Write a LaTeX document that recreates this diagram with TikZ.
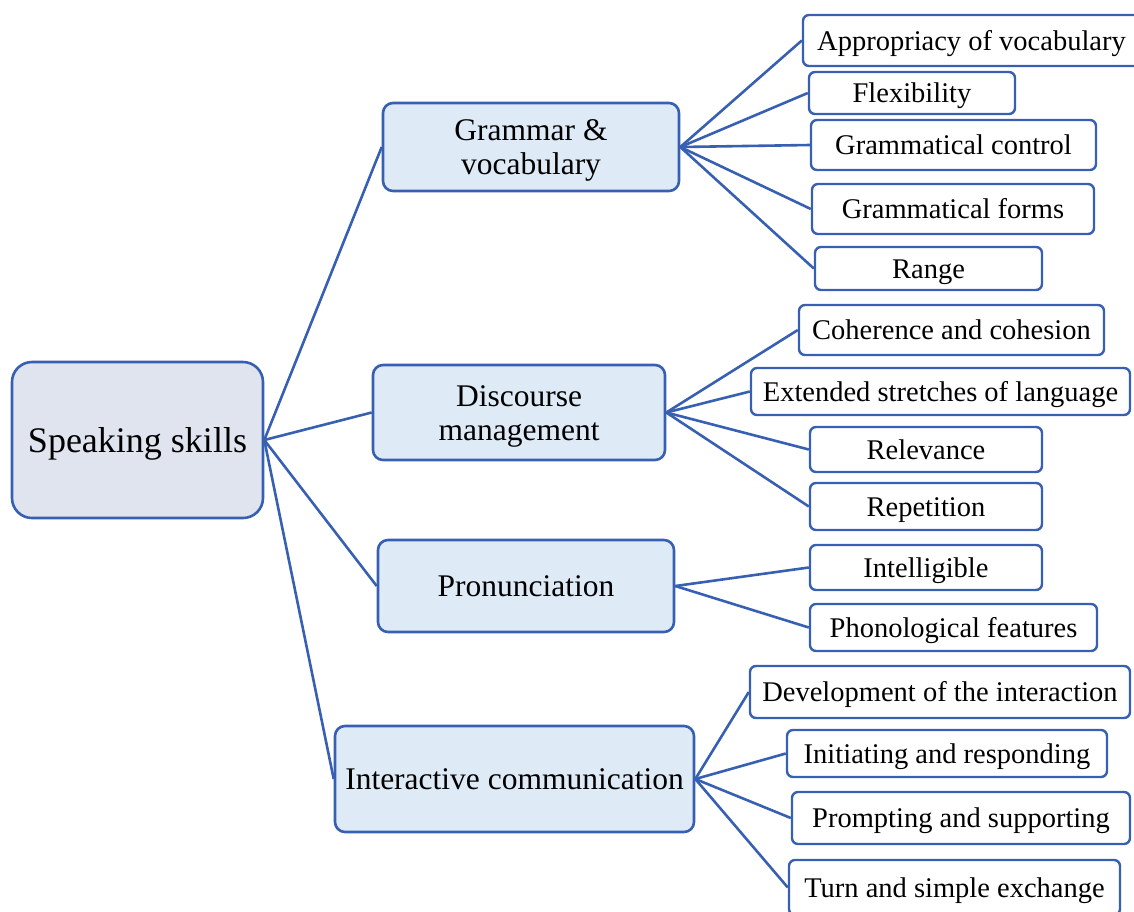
\documentclass[tikz,border=0pt]{standalone}
\usepackage{fontspec}
\setmainfont{Liberation Serif}
\usepackage{tikz}
\usetikzlibrary{positioning}
\definecolor{skline}{RGB}{56,96,178}
\definecolor{skroot}{RGB}{224,228,238}
\definecolor{skmid}{RGB}{222,235,247}
\tikzset{
  rootbox/.style={draw=skline, line width=2.6pt, fill=skroot, rounded corners=20pt,
                  inner sep=0pt, align=center, text height=24pt, text depth=0pt,
                  font=\fontsize{36}{40}\selectfont},
  midbox/.style={draw=skline, line width=2.6pt, fill=skmid, rounded corners=10pt,
                 inner sep=0pt, align=center, text height=21pt, text depth=0pt,
                 font=\fontsize{31.5}{34}\selectfont},
  twoline/.style={text height=55pt},
  leafbox/.style={draw=skline, line width=2.4pt, fill=white, rounded corners=6pt,
                  inner sep=0pt, align=center, text height=19pt, text depth=0pt,
                  font=\fontsize{28.5}{31}\selectfont},
  link/.style={draw=skline, line width=2.6pt},
}
\begin{document}
\begin{tikzpicture}[x=1pt,y=1pt]
\useasboundingbox (0,0) rectangle (1134,-911);
% root and the four skill groups
\node[rootbox, minimum width=251pt, minimum height=156pt] (speak) at (137.5,-440) {Speaking skills};
\node[midbox, twoline, minimum width=296pt, minimum height=88pt] (gv) at (531,-147) {Grammar \&\\vocabulary};
\node[midbox, twoline, minimum width=292pt, minimum height=95pt] (dm) at (519,-412.5) {Discourse\\management};
\node[midbox, minimum width=296pt, minimum height=92pt] (pr) at (526,-586) {Pronunciation};
\node[midbox, minimum width=359pt, minimum height=106pt] (ic) at (514.5,-779) {Interactive communication};
\foreach \g in {gv,dm,pr,ic}
  \draw[link] (speak.east) -- (\g.west);
% criteria per group
\foreach \n/\cx/\cy/\w/\h/\p/\lab in {
  a1/971.5/40.5/337/51/gv/{Appropriacy of vocabulary},
  a2/912/93/206/42/gv/{Flexibility},
  a3/953.5/145/285/50/gv/{Grammatical control},
  a4/953/209/282/50/gv/{Grammatical forms},
  a5/928.5/268.5/227/43/gv/{Range},
  b1/951.5/330/305/50/dm/{Coherence and cohesion},
  b2/940.5/391.5/379/47/dm/{Extended stretches of language},
  b3/926/449.5/232/45/dm/{Relevance},
  b4/926/506.5/232/47/dm/{Repetition},
  c1/926/567.5/232/45/pr/{Intelligible},
  c2/953.5/627.5/287/47/pr/{Phonological features},
  d1/940/692/380/52/ic/{Development of the interaction},
  d2/947/753.5/320/47/ic/{Initiating and responding},
  d3/961/818/338/52/ic/{Prompting and supporting},
  d4/954.5/887.5/331/55/ic/{Turn and simple exchange}}
{
  \node[leafbox, minimum width=\w pt, minimum height=\h pt] (\n) at (\cx,-\cy) {\lab};
  \draw[link] (\p.east) -- (\n.west);
}
\end{tikzpicture}
\end{document}
